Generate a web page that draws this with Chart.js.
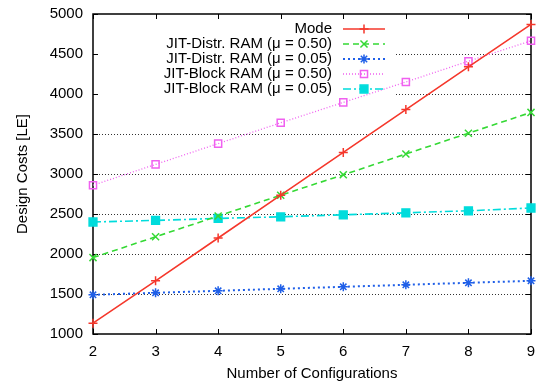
<!DOCTYPE html>
<html lang="en">
<head>
  <meta charset="UTF-8">
  <title>Design Costs</title>
  <script src="https://cdn.jsdelivr.net/npm/chart.js"></script>
  <style>
    html, body { margin: 0; padding: 0; background: #fff; }
  </style>
</head>
<body>
  <canvas id="chart" width="547" height="383"></canvas>
<script>
// Data
const configurations = [2, 3, 4, 5, 6, 7, 8, 9];
const modeCosts     = [1135, 1665, 2200, 2735, 3270, 3805, 4340, 4870];
const distr050Costs = [1955, 2215, 2475, 2735, 2990, 3250, 3510, 3770];
const distr005Costs = [1490, 1515, 1540, 1565, 1590, 1615, 1640, 1665];
const block050Costs = [2860, 3120, 3380, 3640, 3895, 4150, 4410, 4665];
const block005Costs = [2400, 2420, 2445, 2465, 2490, 2515, 2540, 2575];
const seriesLabels = [
  'Mode',
  'JIT-Distr. RAM (\u03bc = 0.50)',
  'JIT-Distr. RAM (\u03bc = 0.05)',
  'JIT-Block RAM (\u03bc = 0.50)',
  'JIT-Block RAM (\u03bc = 0.05)'
];
const yTicks = [1000, 1500, 2000, 2500, 3000, 3500, 4000, 4500, 5000];

const FONT = "'Liberation Sans', Arial, Helvetica, sans-serif";

function points(values) {
  return values.map((v, i) => ({ x: configurations[i], y: v }));
}

function series(label, values, color, dash, width, pointStyle, radius, filled) {
  return {
    label,
    data: points(values),
    borderColor: color,
    borderWidth: width,
    borderDash: dash,
    pointStyle,
    pointRadius: radius,
    pointHoverRadius: radius,
    pointBorderColor: color,
    pointBorderWidth: 1.5,
    pointBackgroundColor: filled ? color : 'rgba(0,0,0,0)',
    fill: false,
    tension: 0,
    clip: false
  };
}

const datasets = [
  series(seriesLabels[0], modeCosts, '#f5372b', [], 1.6, 'cross', 4.5, false),
  series(seriesLabels[1], distr050Costs, '#35d935', [6, 4], 1.6, 'crossRot', 5, false),
  series(seriesLabels[2], distr005Costs, '#1f5fe8', [2, 3], 2, 'star', 4.5, false),
  series(seriesLabels[3], block050Costs, '#f060f0', [1, 2], 1.3, 'rect', 5, false),
  series(seriesLabels[4], block005Costs, '#00dcdc', [8, 3, 2, 3], 1.6, 'rect', 5.5, true)
];

// frame, dotted grid and inward ticks like gnuplot
const framePlugin = {
  id: 'frame',
  beforeDatasetsDraw(chart) {
    const { ctx, chartArea: a, scales } = chart;
    ctx.save();
    // grid
    ctx.strokeStyle = '#333';
    ctx.lineWidth = 1;
    ctx.setLineDash([1, 2]);
    yTicks.slice(1, -1).forEach(t => {
      const y = Math.round(scales.y.getPixelForValue(t)) + 0.5;
      ctx.beginPath();
      ctx.moveTo(a.left, y);
      ctx.lineTo(a.right, y);
      ctx.stroke();
    });
    ctx.setLineDash([]);
    // key background
    ctx.fillStyle = '#fff';
    ctx.fillRect(a.left + 1, a.top + 7, 300, 76);
    // ticks
    ctx.strokeStyle = '#000';
    ctx.lineWidth = 1;
    const tl = 5;
    yTicks.forEach(t => {
      const y = Math.round(scales.y.getPixelForValue(t)) + 0.5;
      ctx.beginPath();
      ctx.moveTo(a.left, y); ctx.lineTo(a.left + tl, y);
      ctx.moveTo(a.right, y); ctx.lineTo(a.right - tl, y);
      ctx.stroke();
    });
    configurations.forEach(c => {
      const x = Math.round(scales.x.getPixelForValue(c)) + 0.5;
      ctx.beginPath();
      ctx.moveTo(x, a.bottom); ctx.lineTo(x, a.bottom - tl);
      ctx.moveTo(x, a.top); ctx.lineTo(x, a.top + tl);
      ctx.stroke();
    });
    // border
    ctx.lineWidth = 1.5;
    ctx.strokeRect(a.left, a.top, a.right - a.left, a.bottom - a.top);
    ctx.restore();
  }
};

// gnuplot style key: right aligned text, sample to the right
const keyPlugin = {
  id: 'key',
  afterDatasetsDraw(chart) {
    const { ctx, chartArea: a } = chart;
    const textRight = a.left + 239;
    const x0 = textRight + 11, x1 = textRight + 53;
    ctx.save();
    ctx.font = '15px ' + FONT;
    ctx.textAlign = 'right';
    ctx.textBaseline = 'middle';
    chart.data.datasets.forEach((ds, i) => {
      const y = a.top + 15 + 15 * i;
      ctx.fillStyle = '#000';
      ctx.fillText(ds.label, textRight, y);
      ctx.strokeStyle = ds.borderColor;
      ctx.lineWidth = ds.borderWidth;
      ctx.setLineDash(ds.borderDash);
      ctx.beginPath();
      ctx.moveTo(x0, y);
      ctx.lineTo(x1, y);
      ctx.stroke();
      ctx.setLineDash([]);
      ctx.fillStyle = ds.pointBackgroundColor;
      ctx.strokeStyle = ds.pointBorderColor;
      ctx.lineWidth = ds.pointBorderWidth;
      Chart.helpers.drawPoint(ctx, {
        pointStyle: ds.pointStyle,
        radius: ds.pointRadius,
        borderWidth: ds.pointBorderWidth,
        rotation: 0
      }, (x0 + x1) / 2, y);
    });
    ctx.restore();
  }
};

new Chart(document.getElementById('chart'), {
  type: 'line',
  data: { datasets },
  options: {
    responsive: false,
    animation: false,
    events: [],
    layout: { padding: { top: 14, right: 16, left: 0, bottom: 0 } },
    plugins: {
      legend: { display: false },
      tooltip: { enabled: false }
    },
    scales: {
      x: {
        type: 'linear',
        min: 2,
        max: 9,
        grid: { display: false, drawTicks: false },
        border: { display: false },
        ticks: {
          stepSize: 1,
          padding: 9,
          color: '#000',
          font: { family: FONT, size: 15 }
        },
        title: {
          display: true,
          text: 'Number of Configurations',
          color: '#000',
          font: { family: FONT, size: 15 },
          padding: { top: 1, bottom: 0 }
        },
        afterFit(scale) {
          scale.height = 49;
          scale.paddingLeft = 0;
          scale.paddingRight = 0;
        }
      },
      y: {
        min: 1000,
        max: 5000,
        grid: { display: false, drawTicks: false },
        border: { display: false },
        ticks: {
          stepSize: 500,
          padding: 10,
          color: '#000',
          font: { family: FONT, size: 15 },
          callback: v => String(v)
        },
        title: {
          display: true,
          text: 'Design Costs [LE]',
          color: '#000',
          font: { family: FONT, size: 15 },
          padding: { top: 14, bottom: 0 }
        },
        afterFit(scale) {
          scale.width = 93;
          scale.paddingTop = 0;
          scale.paddingBottom = 0;
        }
      }
    }
  },
  plugins: [framePlugin, keyPlugin]
});
</script>
</body>
</html>
